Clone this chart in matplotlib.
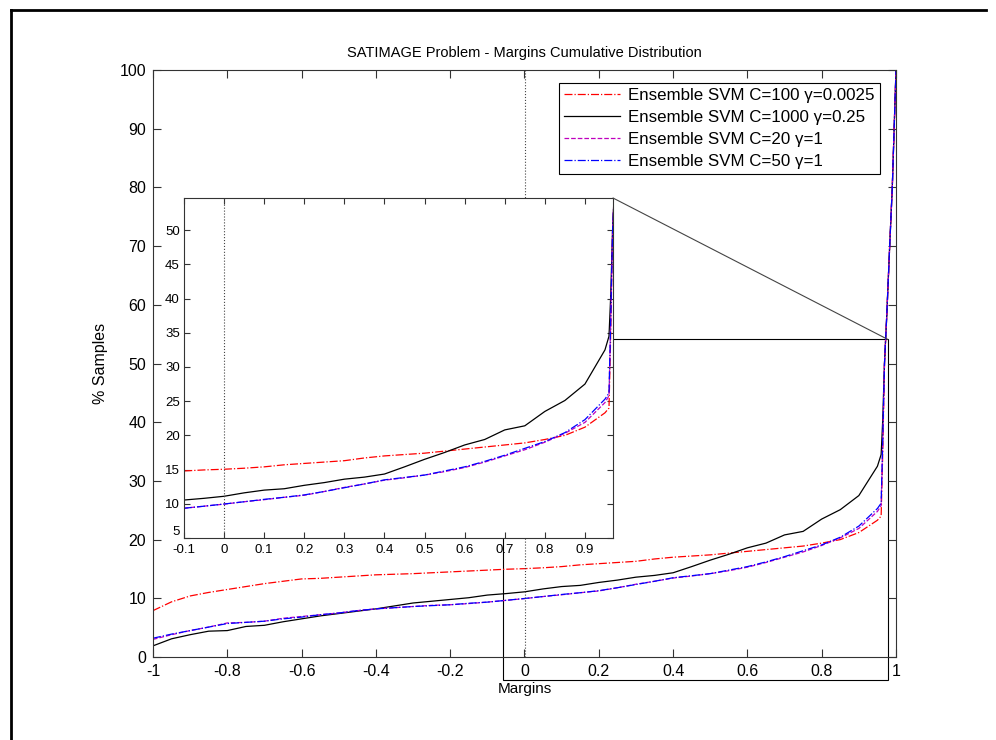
import numpy as np
import matplotlib
matplotlib.use("Agg")
import matplotlib.pyplot as plt
from matplotlib.patches import Rectangle, ConnectionPatch
from matplotlib.lines import Line2D

plt.rcParams['font.family'] = ['Liberation Sans', 'DejaVu Sans']

# margins grid (cumulative distribution sampled by eye)
margins = [-1.0, -0.95, -0.9, -0.85, -0.8, -0.75, -0.7, -0.65, -0.6, -0.55,
           -0.5, -0.45, -0.4, -0.35, -0.3, -0.25, -0.2, -0.15, -0.1, -0.05,
           0.0, 0.05, 0.1, 0.15, 0.2, 0.25, 0.3, 0.35, 0.4, 0.45,
           0.5, 0.55, 0.6, 0.65, 0.7, 0.75, 0.8, 0.85, 0.9, 0.95,
           0.96, 0.964, 0.969, 0.975, 0.983, 0.99, 0.996, 1.0]

svm_c100 = [7.9, 9.4, 10.4, 11.0, 11.5, 12.0, 12.5, 12.9, 13.3, 13.4,
            13.6, 13.8, 14.0, 14.1, 14.2, 14.35, 14.5, 14.65, 14.8, 14.95,
            15.05, 15.2, 15.4, 15.7, 15.9, 16.1, 16.3, 16.7, 17.0, 17.2,
            17.4, 17.7, 18.0, 18.3, 18.6, 18.9, 19.4, 20.0, 21.2, 23.3,
            24.0, 34.0, 50.0, 58.0, 70.0, 80.0, 92.0, 100.0]

svm_c1000 = [1.9, 3.1, 3.8, 4.4, 4.5, 5.2, 5.4, 6.0, 6.5, 7.0,
             7.4, 7.8, 8.2, 8.7, 9.2, 9.5, 9.8, 10.1, 10.55, 10.8,
             11.1, 11.6, 12.0, 12.2, 12.7, 13.1, 13.6, 13.9, 14.35, 15.4,
             16.5, 17.5, 18.6, 19.4, 20.8, 21.4, 23.5, 25.1, 27.5, 32.5,
             34.5, 40.0, 50.0, 58.0, 70.0, 80.0, 92.0, 100.0]

svm_c20 = [3.0, 3.8, 4.5, 5.1, 5.8, 5.9, 6.1, 6.6, 6.9, 7.2,
           7.5, 7.9, 8.2, 8.4, 8.6, 8.8, 8.9, 9.1, 9.35, 9.65,
           9.95, 10.3, 10.6, 10.95, 11.25, 11.8, 12.4, 12.9, 13.45, 13.8,
           14.2, 14.7, 15.3, 16.1, 17.0, 17.9, 19.0, 20.3, 21.9, 24.8,
           25.8, 36.0, 50.0, 58.0, 70.0, 80.0, 92.0, 100.0]

svm_c50 = [3.2, 3.9, 4.5, 5.1, 5.7, 5.9, 6.1, 6.5, 6.8, 7.2,
           7.5, 7.9, 8.2, 8.4, 8.6, 8.75, 8.9, 9.15, 9.35, 9.65,
           9.97, 10.3, 10.65, 10.95, 11.3, 11.8, 12.35, 12.9, 13.5, 13.85,
           14.2, 14.8, 15.4, 16.2, 17.1, 18.1, 19.1, 20.4, 22.3, 25.3,
           26.2, 36.0, 50.0, 58.0, 70.0, 80.0, 92.0, 100.0]

labels = ['Ensemble SVM C=100 \u03b3=0.0025',
          'Ensemble SVM C=1000 \u03b3=0.25',
          'Ensemble SVM C=20 \u03b3=1',
          'Ensemble SVM C=50 \u03b3=1']


def draw_curves(ax):
    ax.plot(margins, svm_c100, color='r', ls='-.', lw=0.9, label=labels[0])
    ax.plot(margins, svm_c1000, color='k', ls='-', lw=0.9, label=labels[1])
    ax.plot(margins, svm_c20, color='m', ls='--', lw=0.9, label=labels[2])
    ax.plot(margins, svm_c50, color='b', ls='-.', lw=0.9, label=labels[3])


def style_axes(ax, size, ticklen, pad):
    for s in ax.spines.values():
        s.set_color('#333333')
        s.set_linewidth(0.8)
    ax.tick_params(direction='in', top=True, right=True, length=ticklen,
                   width=0.8, color='#333333', labelsize=size, pad=pad)


fig = plt.figure(figsize=(9.96, 7.4), dpi=100)

# outer window frame
fig.add_artist(Line2D([11/996, 11/996], [0, 1 - 10/740], color='k', lw=2))
fig.add_artist(Line2D([11/996, 986/996], [1 - 10/740, 1 - 10/740], color='k', lw=2))

ax = fig.add_axes([153/996, 1 - 657/740, 743/996, 587/740])
draw_curves(ax)
ax.axvline(0, color='#444444', ls=':', lw=0.8)
ax.set_xlim(-1, 1)
ax.set_ylim(0, 100)
ax.set_xticks(np.arange(-1, 1.01, 0.2))
ax.set_xticklabels(['-1', '-0.8', '-0.6', '-0.4', '-0.2', '0', '0.2', '0.4', '0.6', '0.8', '1'])
ax.set_yticks(np.arange(0, 101, 10))
style_axes(ax, 11.5, 6, 5)
ax.set_xlabel('Margins', fontsize=11, labelpad=2)
ax.set_ylabel('% Samples', fontsize=11.5, labelpad=8)
ax.set_title('SATIMAGE Problem - Margins Cumulative Distribution', fontsize=10.5, pad=9)

leg = ax.legend(loc='upper right', bbox_to_anchor=(0.978, 0.978), borderaxespad=0,
                fontsize=12.2, handlelength=3.3, fancybox=False, framealpha=1,
                borderpad=0.3, labelspacing=0.42, handletextpad=0.5)
leg.get_frame().set_edgecolor('k')
leg.get_frame().set_linewidth(0.8)

# zoom rectangle in the main axes
zoom_x = (-0.058, 0.978)
zoom_y = (-3.9, 54.1)
ax.add_patch(Rectangle((zoom_x[0], zoom_y[0]), zoom_x[1] - zoom_x[0], zoom_y[1] - zoom_y[0],
                       fill=False, edgecolor='k', lw=0.8, clip_on=False, zorder=1))

# inset
ins = fig.add_axes([184/996, 1 - 538/740, 429/996, 340/740])
draw_curves(ins)
ins.axvline(0, color='#444444', ls=':', lw=0.8)
ins.set_xlim(-0.1, 0.97)
ins.set_ylim(5, 54.7)
ins.set_xticks(np.arange(-0.1, 0.91, 0.1))
ins.set_xticklabels(['-0.1', '0', '0.1', '0.2', '0.3', '0.4', '0.5', '0.6', '0.7', '0.8', '0.9'])
ins.set_yticks(np.arange(5, 51, 5))
style_axes(ins, 9.5, 4, 3)
ins.tick_params(axis='x', pad=4)
# lift the bottom-corner "5" so it clears the "-0.1" below it
ins.get_yticklabels()[0].set_verticalalignment('bottom')

con = ConnectionPatch(xyA=(1, 1), coordsA=ins.transAxes,
                      xyB=(zoom_x[1], zoom_y[1]), coordsB=ax.transData,
                      color='#444444', lw=0.8)
fig.add_artist(con)

fig.savefig('out.png', dpi=100)
